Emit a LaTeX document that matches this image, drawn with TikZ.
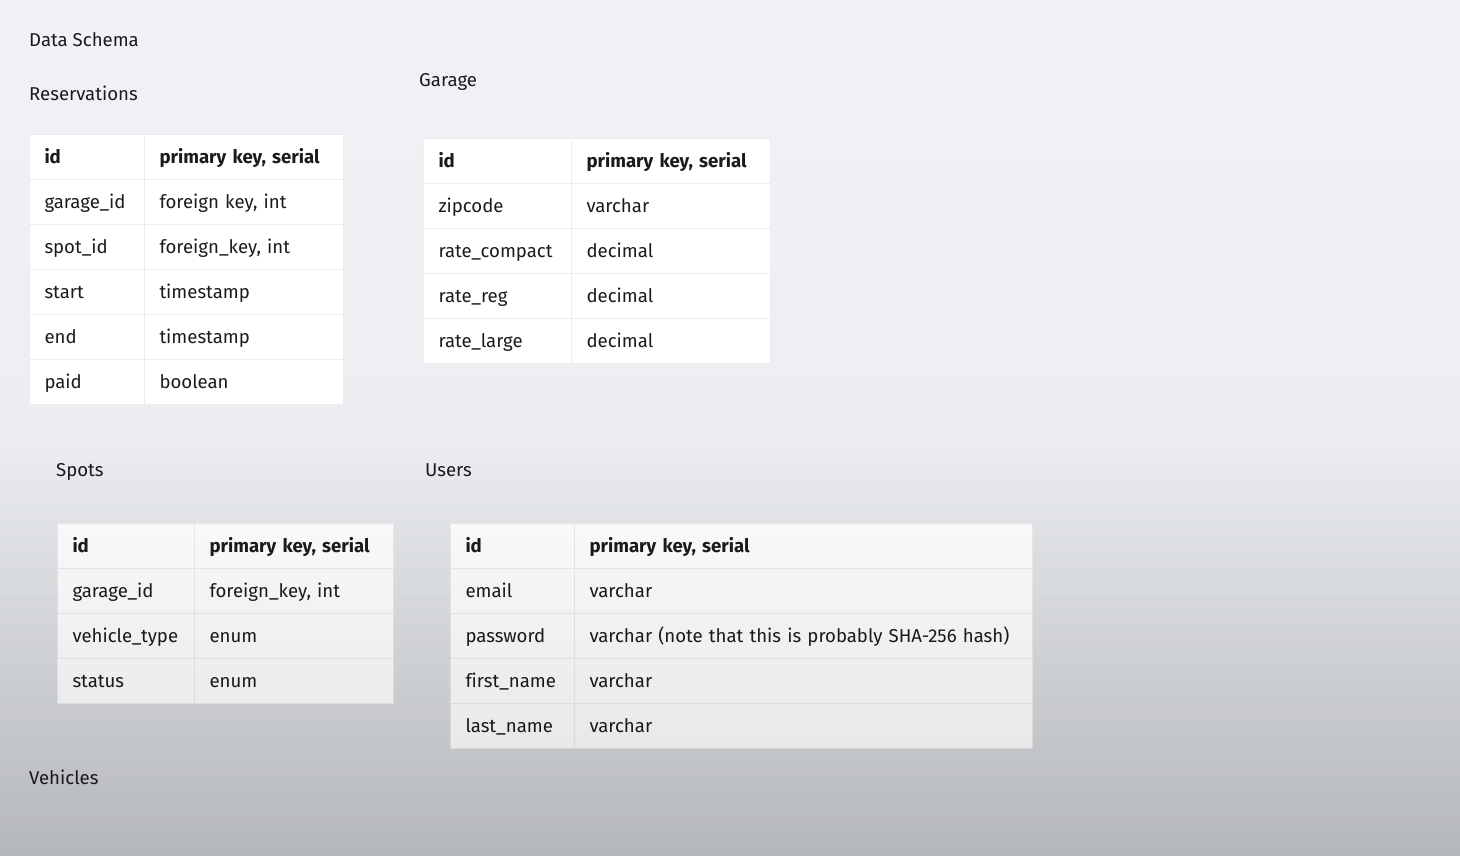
\documentclass[tikz,border=0pt]{standalone}
\usepackage{fontspec}
\setmainfont[Ligatures=NoCommon]{Fira Sans}
\usetikzlibrary{fadings}
\definecolor{ink}{HTML}{1A1B1D}
\definecolor{bgtop}{HTML}{F1F2F5}
\definecolor{bgmid}{HTML}{ECEEF1}
\definecolor{bgbot}{HTML}{CED1D5}
\definecolor{cellline}{HTML}{ECEDEF}
\tikzfading[name=dimdown, top color=transparent!100, bottom color=transparent!0]
\begin{document}
\begin{tikzpicture}[x=1pt,y=-1pt,font=\fontsize{18.6}{22}\selectfont,
  title/.style={anchor=base west,inner sep=0pt,text=ink},
  cell/.style={shape=rectangle,anchor=north west,fill=white,draw=cellline,line width=1pt,minimum height=45pt,inner xsep=15pt,inner ysep=0pt,text height=13pt,text depth=0pt,align=left,text=ink}]
\useasboundingbox (0,0) rectangle (1460,855);
\shade[top color=bgtop,bottom color=bgmid] (-5,-5) rectangle (1465,430);
\shade[top color=bgmid,bottom color=bgbot] (-5,430) rectangle (1465,860);

\node[title] (schema) at (29,46.5) {Data Schema};
\node[title] (resT) at (29,100) {Reservations};
\node[title] (garT) at (419,86.5) {Garage};
\node[title] (spotT) at (56,476.5) {Spots};
\node[title] (userT) at (425,476.5) {Users};
\node[title] (vehT) at (29,784.5) {Vehicles};

% Reservations
\def\rx{29}; \def\ry{134}; \def\rwa{115};
\foreach \ka/\kb [count=\r from 0] in {{\textbf{id}}/{\textbf{primary key, serial}},garage\_id/{foreign key, int},spot\_id/{foreign\_key, int},start/timestamp,end/timestamp,paid/boolean}{
  \node[cell,text width=85pt] (res-\r a) at (\rx,\ry+45*\r) {\ka};
  \node[cell,text width=169pt] (res-\r b) at (\rx+\rwa,\ry+45*\r) {\kb};
}

% Garage
\def\gx{423}; \def\gy{138}; \def\gwa{148};
\foreach \ka/\kb [count=\r from 0] in {{\textbf{id}}/{\textbf{primary key, serial}},zipcode/varchar,rate\_compact/decimal,rate\_reg/decimal,rate\_large/decimal}{
  \node[cell,text width=118pt] (gar-\r a) at (\gx,\gy+45*\r) {\ka};
  \node[cell,text width=169pt] (gar-\r b) at (\gx+\gwa,\gy+45*\r) {\kb};
}

% Spots
\def\sx{57}; \def\sy{523}; \def\swa{137};
\foreach \ka/\kb [count=\r from 0] in {{\textbf{id}}/{\textbf{primary key, serial}},garage\_id/{foreign\_key, int},vehicle\_type/enum,status/enum}{
  \node[cell,text width=107pt] (spot-\r a) at (\sx,\sy+45*\r) {\ka};
  \node[cell,text width=169pt] (spot-\r b) at (\sx+\swa,\sy+45*\r) {\kb};
}

% Users
\def\ux{450}; \def\uy{523}; \def\uwa{124};
\foreach \ka/\kb [count=\r from 0] in {{\textbf{id}}/{\textbf{primary key, serial}},email/varchar,password/{varchar (note that this is probably SHA-256 hash)},first\_name/varchar,last\_name/varchar}{
  \node[cell,text width=94pt] (user-\r a) at (\ux,\uy+45*\r) {\ka};
  \node[cell,text width=428pt] (user-\r b) at (\ux+\uwa,\uy+45*\r) {\kb};
}

% dimming towards the bottom
\fill[black,fill opacity=0.12,path fading=dimdown] (-5,440) rectangle (1465,860);
\end{tikzpicture}
\end{document}
